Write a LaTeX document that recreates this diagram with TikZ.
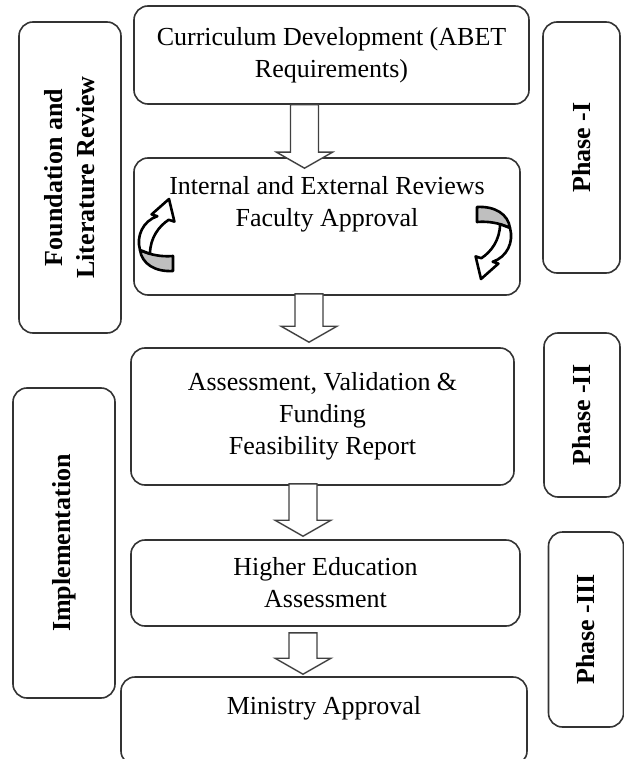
\documentclass[tikz,border=0pt]{standalone}
\usepackage{fontspec}
\setmainfont{Liberation Serif}
\usetikzlibrary{calc,positioning}

\tikzset{
  loop arrow/.pic={
    % back side of the band
    \filldraw[fill=black!25,draw=black,line width=1.3pt,line join=round]
      (16,20) -- (16,35) .. controls (-2,36) and (-15,28) .. (-17,14)
      .. controls (-7,19) and (5,21) .. (16,20) -- cycle;
    % front side with the head
    \filldraw[fill=white,draw=black,line width=1.3pt,line join=round]
      (-17,14) .. controls (-21,0) and (-14,-15) .. (0.3,-19.8)
      -- (-5.4,-21.6) -- (12,-37) -- (17.4,-14.4) -- (11.7,-16.2)
      .. controls (2,-10) and (-7,2) .. (-7,17.8) -- cycle;
  }
}

\begin{document}
\begin{tikzpicture}
  [x=0.5pt,y=-0.5pt,
   every node/.style={font=\fontsize{13}{16}\selectfont},
   stage/.style={rectangle,rounded corners=7pt,draw=black!80,line width=0.8pt,align=center},
   side/.style={stage,rotate=90,font=\fontsize{13}{16}\selectfont\bfseries},
   hollow/.style={draw=black!75,fill=white,line width=0.7pt,
     to path={let \p1=(\tikztostart), \p2=(\tikztotarget) in
       (\x1-7pt,\y1) -- (\x1+7pt,\y1) -- (\x1+7pt,\y2+8pt) -- (\x1+14pt,\y2+8pt)
       -- (\x1,\y2) -- (\x1-14pt,\y2+8pt) -- (\x1-7pt,\y2+8pt) -- cycle}}]

  \useasboundingbox (0,0) rectangle (624,759);

  % main steps
  \node [stage,minimum width=197.5pt,minimum height=49pt] (c1) at (331.5,55)
    {Curriculum Development (ABET\\Requirements)};
  \node [stage,minimum width=193pt,minimum height=68.5pt] (c2) at (327,226.5) {};
  \node (t2) at (327,204) [align=center] {Internal and External Reviews\\Faculty Approval};
  \node [stage,minimum width=191.5pt,minimum height=68.5pt] (c3) at (322.5,416.5)
    {Assessment, Validation \&\\Funding\\Feasibility Report};
  \node [stage,minimum width=194.5pt,minimum height=43pt] (c4) at (325.5,583)
    {Higher Education\\Assessment};
  \node [stage,minimum width=203pt,minimum height=44pt] (c5) at (324,721) {};
  \node (t5) at (324,708) {Ministry Approval};

  % side labels
  \node [side,minimum width=155.5pt,minimum height=51pt] (found) at (70,177.5)
    {Foundation and\\Literature Review};
  \node [side,minimum width=155pt,minimum height=51pt] (impl) at (64,543)
    {Implementation};
  \node [side,minimum width=125.5pt,minimum height=38.5pt] (ph1) at (581.5,147.5)
    {Phase -I};
  \node [side,minimum width=82pt,minimum height=38pt] (ph2) at (582,415)
    {Phase -II};
  \node [side,minimum width=97.5pt,minimum height=37.5pt] (ph3) at (586,629.5)
    {Phase -III};

  % review loop
  \pic (loopl) at (157,236) {loop arrow};
  \pic [rotate=180] (loopr) at (493,242) {loop arrow};

  \draw [hollow] ([xshift=-13.5pt]c1.south) to ([yshift=-5.5pt]c2.north);
  \draw [hollow] ([xshift=-9pt,yshift=1pt]c2.south) to ([yshift=2.5pt]c3.north);
  \draw [hollow] ([xshift=-9.75pt,yshift=1pt]c3.south) to ([yshift=1.5pt]c4.north);
  \draw [hollow] ([xshift=-11.25pt,yshift=-3pt]c4.south) to ([yshift=1pt]c5.north);

\end{tikzpicture}
\end{document}
